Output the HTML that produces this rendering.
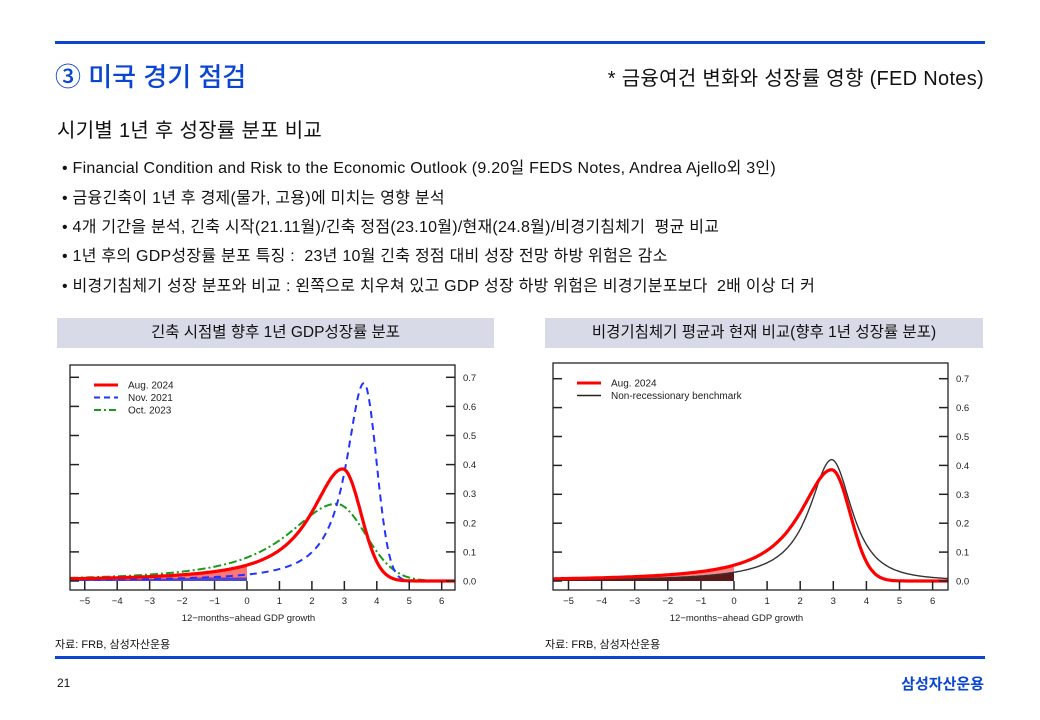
<!DOCTYPE html>
<html><head><meta charset="utf-8"><style>
body{margin:0;background:#fff;width:1040px;height:720px;position:relative;overflow:hidden;font-family:"Liberation Sans","Noto Sans CJK KR",sans-serif;color:#111}
.a{position:absolute;white-space:nowrap}
.hl{position:absolute;left:55px;width:930px;height:3px;background:#0a46d2}
.bl{font-size:16px;left:62px;letter-spacing:0.25px}
.box{position:absolute;top:318px;height:30px;background:#d8dae8;font-size:15.5px;text-align:center;line-height:30px}
</style></head><body>
<div class="hl" style="top:41px"></div>
<div class="a" style="left:55px;top:57px;font-size:26px;color:#0a46d2;font-weight:500">③ 미국 경기 점검</div>
<div class="a" style="right:56px;top:62px;font-size:20px;letter-spacing:0.3px">* 금융여건 변화와 성장률 영향 (FED Notes)</div>
<div class="a" style="left:57px;top:114px;font-size:20px;letter-spacing:0.3px">시기별 1년 후 성장률 분포 비교</div>
<div class="a bl" style="top:154px">• Financial Condition and Risk to the Economic Outlook (9.20일 FEDS Notes, Andrea Ajello외 3인)</div>
<div class="a bl" style="top:184px">• 금융긴축이 1년 후 경제(물가, 고용)에 미치는 영향 분석</div>
<div class="a bl" style="top:213px">• 4개 기간을 분석, 긴축 시작(21.11월)/긴축 정점(23.10월)/현재(24.8월)/비경기침체기 &nbsp;평균 비교</div>
<div class="a bl" style="top:242px">• 1년 후의 GDP성장률 분포 특징 : &nbsp;23년 10월 긴축 정점 대비 성장 전망 하방 위험은 감소</div>
<div class="a bl" style="top:272px">• 비경기침체기 성장 분포와 비교 : 왼쪽으로 치우쳐 있고 GDP 성장 하방 위험은 비경기분포보다 &nbsp;2배 이상 더 커</div>
<div class="box" style="left:57px;width:437px">긴축 시점별 향후 1년 GDP성장률 분포</div>
<div class="box" style="left:545px;width:438px">비경기침체기 평균과 현재 비교(향후 1년 성장률 분포)</div>
<svg id="s" class="a" style="left:0;top:0" width="1040" height="720"></svg>
<div class="a" style="left:55px;top:636px;font-size:11px">자료: FRB, 삼성자산운용</div>
<div class="a" style="left:545px;top:636px;font-size:11px">자료: FRB, 삼성자산운용</div>
<div class="hl" style="top:656px"></div>
<div class="a" style="left:57px;top:676px;font-size:12px">21</div>
<div class="a" style="right:56px;top:673px;font-size:15px;color:#0a46d2;font-weight:bold">삼성자산운용</div>
<script>
const S=document.getElementById('s');let h='';
function f(x,m,A,sl,pl,sr,gauss,pr){const d=x-m;
 if(d<0)return A/Math.pow(1+(d/sl)*(d/sl),pl);
 return gauss?A*Math.exp(-d*d/(2*sr*sr)):A/Math.pow(1+(d/sr)*(d/sr),pr||1);}
function chart(L,R,T,B,x0,xu,y0,yu,series,shades,legend){
 const X=v=>x0+v*xu,Y=v=>y0-v*yu*10;
 for(const sh of shades){let p=`M${L},${Y(0)}`;for(let v=-5.6;v<=0;v+=0.05)p+=`L${Math.max(L,X(v))},${Y(sh.fn(v))}`;p+=`L${X(0)},${Y(sh.fn(0))}L${X(0)},${Y(0)}Z`;h+=`<path d="${p}" fill="${sh.c}"/>`;}
 for(const s of series){let p='';for(let v=-5.6;v<=6.5;v+=0.03){const px=X(v);if(px<L||px>R)continue;p+=(p?'L':'M')+px.toFixed(1)+','+Y(s.fn(v)).toFixed(1);}
  h+=`<path d="${p}" fill="none" stroke="${s.c}" stroke-width="${s.w}" ${s.d?`stroke-dasharray="${s.d}"`:''}/>`;}
 h+=`<rect x="${L}" y="${T}" width="${R-L}" height="${B-T}" fill="none" stroke="#222" stroke-width="1.3"/>`;
 for(let i=-5;i<=6;i++){h+=`<line x1="${X(i)}" x2="${X(i)}" y1="${B}" y2="${B-9}" stroke="#222" stroke-width="1.5"/><text x="${X(i)}" y="${B+14}" font-size="9.5" text-anchor="middle" fill="#222">${i<0?'−'+(-i):i}</text>`;}
 for(let k=0;k<=7;k++){const y=Y(k/10);h+=`<line x1="${L}" x2="${L+9}" y1="${y}" y2="${y}" stroke="#222" stroke-width="1.5"/><line x1="${R}" x2="${R-9}" y1="${y}" y2="${y}" stroke="#222" stroke-width="1.5"/><text x="${R+8}" y="${y+3.5}" font-size="9.5" fill="#222">${(k/10).toFixed(1)}</text>`;}
 h+=`<text x="${(L+R)/2-14}" y="${B+31}" font-size="9.5" text-anchor="middle" fill="#222">12−months−ahead GDP growth</text>`;
 legend.forEach((g,i)=>{const y=T+20+i*12.5;h+=`<line x1="${L+24}" x2="${L+48}" y1="${y}" y2="${y}" stroke="${g.c}" stroke-width="${g.w}" ${g.d?`stroke-dasharray="${g.d}"`:''}/><text x="${L+58}" y="${y+3.5}" font-size="10" fill="#222">${g.t}</text>`;});
}
const aug=v=>f(v,2.95,0.385,1.2,1,0.56,true);
const nov=v=>f(v,3.6,0.68,0.66,1,0.39,true);
const oct=v=>f(v,2.75,0.265,1.97,1.1,0.9,true);
const ben=v=>f(v,2.95,0.42,0.82,1,0.9,false,1.4);
const low=v=>Math.min(nov(v),0.012);
chart(70,455,365,590,247,32.45,581,29.1,
 [{fn:oct,c:'#1a9a1a',w:2,d:'8 3 2 3'},{fn:nov,c:'#2233ff',w:2,d:'7 5'},{fn:aug,c:'#f00',w:3.2}],
 [{fn:aug,c:'#f77'},{fn:low,c:'#5544cc'}],
 [{c:'#f00',w:3,t:'Aug. 2024'},{c:'#2233ff',w:2,d:'6 4',t:'Nov. 2021'},{c:'#1a9a1a',w:2,d:'7 3 2 3',t:'Oct. 2023'}]);
chart(553,948,363,590,734,33.1,581,28.9,
 [{fn:ben,c:'#333',w:1.4},{fn:aug,c:'#f00',w:3.2}],
 [{fn:aug,c:'#f88'},{fn:ben,c:'#5a1a1a'}],
 [{c:'#f00',w:3,t:'Aug. 2024'},{c:'#222',w:1.5,t:'Non-recessionary benchmark'}]);
S.innerHTML=h;
</script>
</body></html>
